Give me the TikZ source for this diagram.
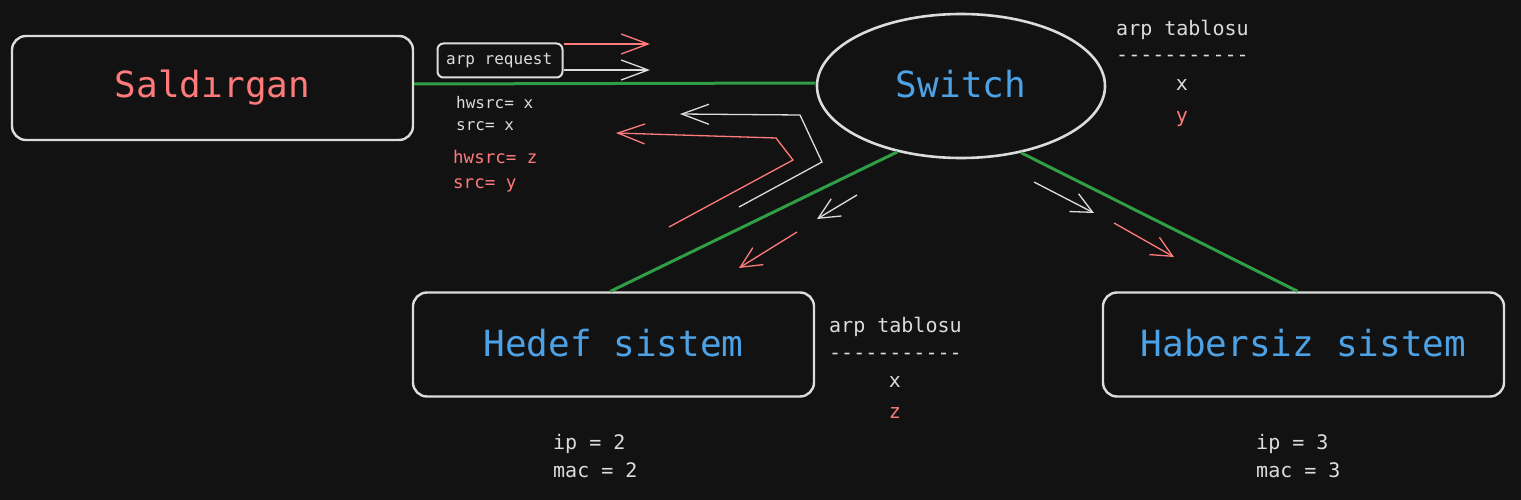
\documentclass[tikz,border=0pt]{standalone}
\usepackage{fontspec}
\setmonofont{DejaVu Sans Mono}
\usetikzlibrary{shapes.geometric,arrows.meta}
\definecolor{bg}{HTML}{121212}
\definecolor{stroke}{HTML}{DCDCDC}
\definecolor{txt}{HTML}{DCDCDC}
\definecolor{redt}{HTML}{FF7A7A}
\definecolor{bluet}{HTML}{4DA2E6}
\definecolor{greenl}{HTML}{2F9E44}
\tikzset{
  bigbox/.style={draw=stroke, line width=2.4pt, rounded corners=14pt, minimum width=401pt, minimum height=104pt, inner sep=0pt},
  biglabel/.style={font=\ttfamily\fontsize{36}{40}\selectfont, anchor=base, inner sep=0pt},
  smalltxt/.style={font=\ttfamily\fontsize{16}{18}\selectfont, text=txt, anchor=base west, inner sep=0pt},
  redtxt/.style={font=\ttfamily\fontsize{17.5}{20}\selectfont, text=redt, anchor=base west, inner sep=0pt},
  tabtxt/.style={font=\ttfamily\fontsize{20}{24}\selectfont, text=txt, inner sep=0pt},
  gline/.style={draw=greenl, line width=3pt},
  warrow/.style={draw=stroke, line width=1.3pt, -{Straight Barb[length=27pt, width=20pt]}},
  rarrow/.style={draw=redt, line width=1.3pt, -{Straight Barb[length=27pt, width=20pt]}},
  wdiag/.style={draw=stroke, line width=1.3pt, -{Straight Barb[length=21pt, width=20pt]}},
  rdiag/.style={draw=redt, line width=1.3pt, -{Straight Barb[length=21pt, width=20pt]}},
}
\begin{document}
\begin{tikzpicture}[x=1pt, y=-1pt]
\useasboundingbox (0,0) rectangle (1521,500);
\fill[bg] (0,0) rectangle (1521,500);

% boxes
\node[bigbox] (sald) at (212.5,88) {};
\node[biglabel, text=redt] (saldl) at (212.5,98) {Saldırgan};
\node[draw=stroke, line width=2.6pt, ellipse, minimum width=288pt, minimum height=144pt, inner sep=0pt] (switch) at (961,86) {};
\node[biglabel, text=bluet] (switchl) at (961,98) {Switch};
\node[bigbox] (hedef) at (613.5,344.5) {};
\node[biglabel, text=bluet] (hedefl) at (613.5,356) {Hedef sistem};
\node[bigbox] (haber) at (1303.5,344.5) {};
\node[biglabel, text=bluet] (haberl) at (1303.5,356) {Habersiz sistem};

% green links
\draw[gline] (sald.east |- 0,84) coordinate (g1) -- (switch.west |- 0,83);
\draw[gline] (switch.226.7) -- ([xshift=-3pt]hedef.north);
\draw[gline] (switch.312.4) -- ([xshift=-6pt]haber.north);

% arp request
\node[draw=stroke, line width=2pt, rounded corners=6pt, minimum width=125pt, minimum height=34pt, inner sep=0pt] (arpreq) at (500,60.5) {};
\node[smalltxt] (arpreql) at (446,65) {arp request};
\coordinate (rq1) at (650,44);
\coordinate (rq2) at (650,70);
\draw[rarrow] (arpreq.north east |- rq1) -- (rq1);
\draw[warrow] (arpreq.east |- rq2) -- (rq2);

% packet texts
\node[smalltxt] (hw1) at (456,109) {hwsrc= x};
\node[smalltxt] (sr1) at (456,131) {src= x};
\node[redtxt] (hw2) at (453,164) {hwsrc= z};
\node[redtxt] (sr2) at (453,189) {src= y};

% return polylines
\coordinate (wp0) at (739,207);
\coordinate (wp1) at (822,162);
\coordinate (wp2) at (800,115);
\coordinate (wp3) at (680,114);
\draw[warrow] (wp0) -- (wp1) -- (wp2) -- (wp3);
\coordinate (rp0) at (669,227);
\coordinate (rp1) at (793,160);
\coordinate (rp2) at (776,138);
\coordinate (rp3) at (616,133);
\draw[rarrow] (rp0) -- (rp1) -- (rp2) -- (rp3);

% diagonal arrows
\coordinate (wd0) at (857,195);
\coordinate (wd1) at (817,219);
\draw[wdiag] (wd0) -- (wd1);
\coordinate (rd0) at (797,232);
\coordinate (rd1) at (739,268);
\draw[rdiag] (rd0) -- (rd1);
\coordinate (we0) at (1034,182);
\coordinate (we1) at (1094,213);
\draw[wdiag] (we0) -- (we1);
\coordinate (re0) at (1114,223);
\coordinate (re1) at (1174,257);
\draw[rdiag] (re0) -- (re1);

% arp tables
\node[tabtxt, anchor=base west] (t1) at (1116,36) {arp tablosu};
\node[tabtxt, anchor=base west] (d1) at (1116,62) {-----------};
\node[tabtxt, anchor=base] (x1) at (1182,91) {x};
\node[tabtxt, anchor=base, text=redt] (y1) at (1182,123) {y};

\node[tabtxt, anchor=base west] (t2) at (829,332) {arp tablosu};
\node[tabtxt, anchor=base west] (d2) at (829,359) {-----------};
\node[tabtxt, anchor=base] (x2) at (895,387) {x};
\node[tabtxt, anchor=base, text=redt] (z2) at (895,418) {z};

% ip / mac
\node[tabtxt, anchor=base west] (ip2) at (553,449) {ip = 2};
\node[tabtxt, anchor=base west] (mac2) at (553,477) {mac = 2};
\node[tabtxt, anchor=base west] (ip3) at (1256,449) {ip = 3};
\node[tabtxt, anchor=base west] (mac3) at (1256,477) {mac = 3};
\end{tikzpicture}
\end{document}
